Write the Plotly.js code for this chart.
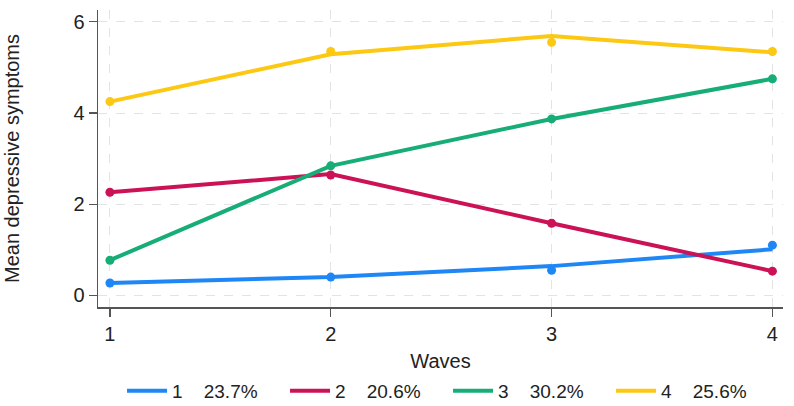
<!DOCTYPE html>
<html>
<head>
<meta charset="utf-8">
<script src="https://cdn.plot.ly/plotly-3.0.1.min.js"></script>
<style>html,body{margin:0;padding:0;background:#fff;}#chart{width:794px;height:406px;}</style>
</head>
<body>
<div id="chart"></div>
<script>
const waves = [1, 2, 3, 4];
const groupNames = ['1', '2', '3', '4'];
const groupShares = ['23.7%', '20.6%', '30.2%', '25.6%'];
const colors = ['#1f86f5', '#cc1256', '#16ad77', '#fcc812'];

// fitted trajectories (lines)
const fitted1 = [0.27, 0.40, 0.64, 1.01];
const fitted2 = [2.26, 2.66, 1.58, 0.53];
const fitted3 = [0.77, 2.84, 3.87, 4.75];
const fitted4 = [4.25, 5.29, 5.69, 5.33];

// observed means (dots)
const observed1 = [0.27, 0.40, 0.55, 1.10];
const observed2 = [2.26, 2.64, 1.58, 0.53];
const observed3 = [0.77, 2.84, 3.87, 4.75];
const observed4 = [4.25, 5.35, 5.55, 5.35];

const yTicks = [0, 2, 4, 6];

const fitted = [fitted1, fitted2, fitted3, fitted4];
const observed = [observed1, observed2, observed3, observed4];

const traces = [];
for (let i = 0; i < 4; i++) {
  traces.push({
    x: waves, y: fitted[i], mode: 'lines', type: 'scatter',
    name: groupNames[i] + '\u00a0\u00a0\u00a0\u00a0' + groupShares[i],
    line: {color: colors[i], width: 4},
    showlegend: true
  });
}
for (let i = 0; i < 4; i++) {
  traces.push({
    x: waves, y: observed[i], mode: 'markers', type: 'scatter',
    marker: {color: colors[i], size: 9},
    showlegend: false, hoverinfo: 'skip'
  });
}

const layout = {
  width: 794, height: 406,
  margin: {l: 98, r: 11, t: 10, b: 99},
  paper_bgcolor: '#fff', plot_bgcolor: '#fff',
  font: {family: 'Liberation Sans, Arial, sans-serif', color: '#222', size: 19},
  xaxis: {
    range: [0.946, 4.048], tickvals: waves, ticktext: waves.map(String),
    ticks: 'outside', ticklen: 8, tickcolor: '#555', tickwidth: 1.2,
    showline: true, linecolor: '#555', linewidth: 1.5,
    showgrid: true, gridcolor: '#e3e3e3', griddash: 'dash', gridwidth: 1,
    zeroline: false,
    tickfont: {size: 20, color: '#222'},
    title: {text: 'Waves', font: {size: 20, color: '#222'}, standoff: 12},
    automargin: false
  },
  yaxis: {
    range: [-0.257, 6.26], tickvals: yTicks, ticktext: yTicks.map(String),
    ticks: 'outside', ticklen: 8, tickcolor: '#555', tickwidth: 1.2,
    showline: true, linecolor: '#555', linewidth: 1.5,
    showgrid: true, gridcolor: '#e3e3e3', griddash: 'dash', gridwidth: 1,
    zeroline: false,
    tickfont: {size: 20, color: '#222'},
    title: {text: 'Mean depressive symptoms', font: {size: 20, color: '#222'}, standoff: 48},
    automargin: false
  },
  legend: {
    orientation: 'h', xref: 'container', yref: 'container',
    x: 0.1537, xanchor: 'left', y: 0.037, yanchor: 'middle',
    font: {size: 19, color: '#222'},
    entrywidth: 108, entrywidthmode: 'pixels',
    itemwidth: 40, traceorder: 'normal'
  },
  showlegend: true
};

Plotly.newPlot('chart', traces, layout, {displayModeBar: false, staticPlot: true});
</script>
</body>
</html>
